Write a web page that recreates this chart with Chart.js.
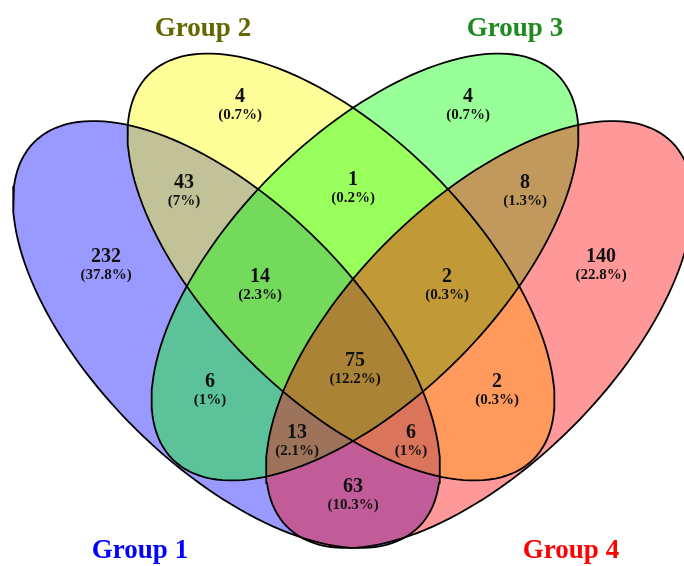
<!DOCTYPE html>
<html>
<head>
<meta charset="utf-8">
<script src="https://cdn.jsdelivr.net/npm/chart.js@4/dist/chart.umd.min.js"></script>
<style>
  html, body { margin: 0; padding: 0; background: #fff; }
  #wrap { width: 684px; height: 566px; position: relative; }
</style>
</head>
<body>
<div id="wrap"><canvas id="venn"></canvas></div>
<script>
// DATA
const groups = ["Group 1", "Group 2", "Group 3", "Group 4"];
const groupColors = ["#0000ff", "#ffff00", "#00ff00", "#ff0000"];
const labelColors = ["#0000ff", "#666600", "#1f8a1f", "#ff0000"];

// region membership (which groups) and counts
const regions = ["1", "2", "3", "4", "12", "13", "14", "23", "24", "34", "123", "124", "134", "234", "1234"];
const counts  = [232, 4, 4, 140, 43, 6, 63, 1, 2, 8, 14, 6, 13, 2, 75];

// LAYOUT (pixel-space units of the plot)
const ellCx = [226.5, 341, 365, 479.5];
const ellCy = [334.5, 267, 267, 334.5];
const ellA = 272, ellB = 131;
const ellTilt = [1, 1, -1, -1]; // 1 = upper-left to lower-right
const regionX = [106, 240, 468, 601, 184, 210, 353, 353, 497, 525, 260, 411, 297, 447, 355];
const regionY = [257, 97, 97, 257, 183, 382, 487, 180, 382, 183, 277, 433, 433, 277, 361];
const groupLabelX = [140, 203, 515, 571];
const groupLabelY = [551, 29, 29, 551];

const total = counts.reduce((s, v) => s + v, 0);

function ellipsePoints(i) {
  const pts = [];
  const n = 160;
  const s = Math.SQRT1_2;
  for (let k = 0; k <= n; k++) {
    const t = (k / n) * Math.PI * 2;
    const u = ellA * Math.cos(t), v = ellB * Math.sin(t);
    // major axis direction (1, tilt)/sqrt2, minor axis (1, -tilt)/sqrt2 in screen coords
    pts.push({
      x: ellCx[i] + (u + v) * s,
      y: ellCy[i] + (u * ellTilt[i] - v * ellTilt[i]) * s
    });
  }
  return pts;
}

function hexAlpha(hex, a) {
  const r = parseInt(hex.slice(1, 3), 16), g = parseInt(hex.slice(3, 5), 16), b = parseInt(hex.slice(5, 7), 16);
  return "rgba(" + r + "," + g + "," + b + "," + a + ")";
}

function pctText(c) {
  const p = Math.round(c / total * 1000) / 10;
  return "(" + p + "%)";
}

const datasets = groups.map((g, i) => ({
  label: g,
  data: ellipsePoints(i),
  showLine: true,
  fill: "shape",
  backgroundColor: hexAlpha(groupColors[i], 0.4),
  borderColor: "#000",
  borderWidth: 1.8,
  pointRadius: 0,
  tension: 0,
  order: 4 - i
}));

// labels drawn on top of the ellipses through the scales
const vennLabels = {
  id: "vennLabels",
  afterDatasetsDraw(chart) {
    const { ctx, scales: { x, y } } = chart;
    ctx.save();
    ctx.textAlign = "center";
    ctx.textBaseline = "middle";
    ctx.fillStyle = "#111";
    regions.forEach((r, i) => {
      const px = x.getPixelForValue(regionX[i]);
      const py = y.getPixelForValue(regionY[i]);
      ctx.font = "bold 20px 'Liberation Serif', 'DejaVu Serif', serif";
      ctx.fillText(String(counts[i]), px, py);
      ctx.font = "bold 15px 'Liberation Serif', 'DejaVu Serif', serif";
      ctx.fillText(pctText(counts[i]), px, py + 18);
    });
    ctx.font = "bold 27px 'Liberation Serif', 'DejaVu Serif', serif";
    groups.forEach((g, i) => {
      ctx.fillStyle = labelColors[i];
      ctx.fillText(g, x.getPixelForValue(groupLabelX[i]), y.getPixelForValue(groupLabelY[i]));
    });
    ctx.restore();
  }
};

new Chart(document.getElementById("venn"), {
  type: "scatter",
  data: { datasets: datasets },
  options: {
    responsive: true,
    maintainAspectRatio: false,
    animation: false,
    layout: { padding: 0 },
    scales: {
      x: { type: "linear", min: 0, max: 684, display: false },
      y: { type: "linear", min: 0, max: 566, reverse: true, display: false }
    },
    plugins: {
      legend: { display: false },
      tooltip: { enabled: false },
      filler: { drawTime: "beforeDatasetsDraw" }
    }
  },
  plugins: [vennLabels]
});
</script>
</body>
</html>
